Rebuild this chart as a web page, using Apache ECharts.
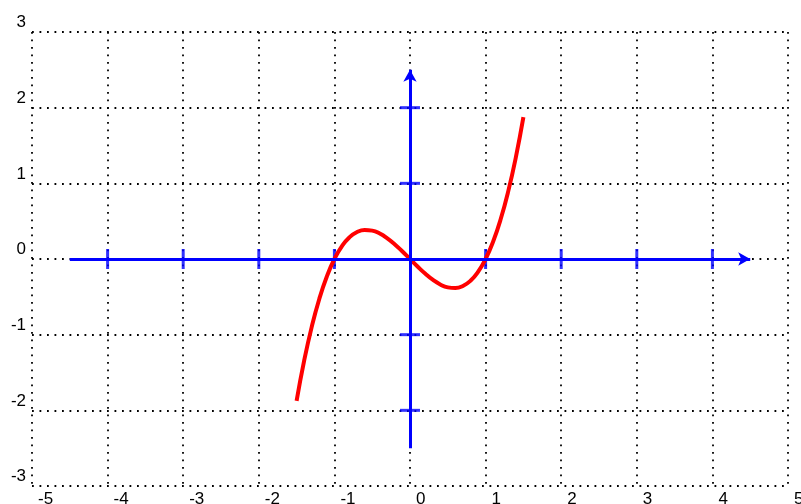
<!DOCTYPE html>
<html>
<head>
<meta charset="utf-8">
<script src="https://cdn.jsdelivr.net/npm/echarts@6/dist/echarts.min.js"></script>
<style>
  html, body { margin: 0; padding: 0; background: #fff; }
  #main { width: 801px; height: 504px; }
</style>
</head>
<body>
<div id="main"></div>
<script>
// curve points (x, y)
const curveX = [-1.5, -1.4, -1.3, -1.2, -1.1, -1.0, -0.9, -0.8, -0.7, -0.6, -0.5, -0.4, -0.3, -0.2, -0.1,
  0, 0.1, 0.2, 0.3, 0.4, 0.5, 0.6, 0.7, 0.8, 0.9, 1.0, 1.1, 1.2, 1.3, 1.4, 1.5];
const curveY = [-1.875, -1.344, -0.897, -0.528, -0.231, 0, 0.171, 0.288, 0.357, 0.384, 0.375, 0.336, 0.273, 0.192, 0.099,
  0, -0.099, -0.192, -0.273, -0.336, -0.375, -0.384, -0.357, -0.288, -0.171, 0, 0.231, 0.528, 0.897, 1.344, 1.875];

// the drawn blue axes
const xAxisSpan = [-4.5, 4.5];
const yAxisSpan = [-2.5, 2.5];
const xTicks = [-4, -3, -2, -1, 1, 2, 3, 4];
const yTicks = [-2, -1, 1, 2];

// frame range
const xRange = [-5, 5];
const yRange = [-3, 3];

const blue = '#0000ff';
const font = 'Liberation Sans, Arial, sans-serif';

const chart = echarts.init(document.getElementById('main'));

const gridLine = {
  show: true,
  lineStyle: { color: '#000', width: 1.8, type: [1.8, 5.7] }
};

const option = {
  animation: false,
  backgroundColor: '#fff',
  grid: {
    left: 32, right: 13, top: 32, bottom: 18,
    containLabel: false,
    outerBoundsMode: 'none'
  },
  xAxis: {
    type: 'value',
    min: xRange[0], max: xRange[1], interval: 1,
    axisLine: { show: false },
    axisTick: { show: false },
    splitLine: gridLine,
    axisLabel: {
      color: '#000', fontSize: 17, fontFamily: font,
      align: 'left', padding: [0, 0, 0, 6], margin: 5,
      showMinLabel: true, showMaxLabel: true
    }
  },
  yAxis: {
    type: 'value',
    min: yRange[0], max: yRange[1], interval: 1,
    axisLine: { show: false },
    axisTick: { show: false },
    splitLine: gridLine,
    axisLabel: {
      color: '#000', fontSize: 17, fontFamily: font,
      margin: 6, verticalAlign: 'bottom', padding: [0, 0, 1, 0],
      showMinLabel: true, showMaxLabel: true
    }
  },
  series: [
    {
      // blue axes with arrow heads
      type: 'line',
      data: [],
      silent: true,
      markLine: {
        silent: true,
        animation: false,
        symbol: ['none', 'arrow'],
        symbolSize: [10, 12],
        label: { show: false },
        lineStyle: { color: blue, width: 3, type: 'solid' },
        emphasis: { disabled: true },
        data: [
          [{ coord: [xAxisSpan[0], 0] }, { coord: [xAxisSpan[1], 0] }],
          [{ coord: [0, yAxisSpan[0]] }, { coord: [0, yAxisSpan[1]] }]
        ]
      }
    },
    {
      type: 'scatter',
      silent: true,
      symbol: 'rect',
      symbolSize: [3, 20],
      itemStyle: { color: blue },
      data: xTicks.map(v => [v, 0])
    },
    {
      type: 'scatter',
      silent: true,
      symbol: 'rect',
      symbolSize: [20, 3],
      itemStyle: { color: blue },
      data: yTicks.map(v => [0, v])
    },
    {
      type: 'line',
      silent: true,
      smooth: true,
      showSymbol: false,
      lineStyle: { color: '#ff0000', width: 4 },
      data: curveX.map((x, i) => [x, curveY[i]])
    }
  ]
};

chart.setOption(option);
</script>
</body>
</html>
